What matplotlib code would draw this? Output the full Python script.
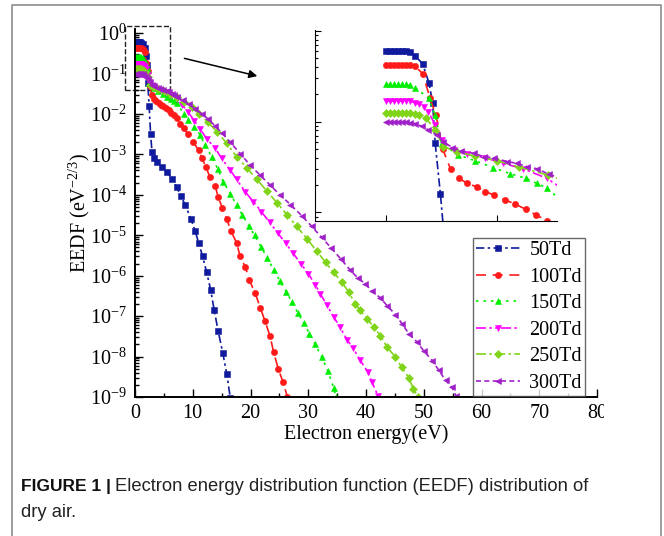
import matplotlib
matplotlib.use('Agg')
import matplotlib.pyplot as plt
import matplotlib.ticker as ticker
import numpy as np
from matplotlib.lines import Line2D
from matplotlib.patches import Rectangle
from matplotlib.transforms import Bbox, TransformedBbox

plt.rcParams['font.family'] = ['Liberation Serif', 'DejaVu Serif']
plt.rcParams['mathtext.fontset'] = 'custom'
plt.rcParams['mathtext.rm'] = 'Liberation Serif'
plt.rcParams['mathtext.it'] = 'Liberation Serif:italic'

# electron energy (eV) and log10(EEDF)
e_50 = [0, 0.18, 0.36, 0.54, 0.72, 0.9, 1.08, 1.31, 1.65, 1.94, 2.10, 2.21, 2.45, 2.7,
        2.95, 3.3, 3.8, 4.6, 5.5, 6.4, 7.2, 7.9, 8.7, 9.7, 10.4, 11.0, 11.7, 12.4,
        13.1, 13.7, 14.4, 15.2, 15.9, 16.5]
lg_50 = [-0.217, -0.217, -0.217, -0.217, -0.217, -0.22, -0.235, -0.272, -0.364, -0.577,
         -0.797, -1.23, -1.8, -2.5, -2.95, -3.1, -3.19, -3.31, -3.43, -3.6, -3.8, -4.02,
         -4.25, -4.6, -4.89, -5.18, -5.52, -5.91, -6.35, -6.84, -7.37, -7.91, -8.44, -9.02]

e_100 = [0, 0.18, 0.36, 0.54, 0.72, 0.9, 1.08, 1.31, 1.65, 1.98, 2.25, 2.55, 2.91, 3.29,
         3.66, 4.09, 4.47, 4.88, 5.36, 5.81, 6.29, 6.77, 7.27, 7.8, 8.4, 9.2, 10.1, 11.0,
         11.6, 12.3, 13.0, 13.9, 14.4, 15.1, 15.9, 16.6, 17.6, 18.2, 19.1, 19.8, 20.8,
         21.7, 22.5, 23.4, 24.0, 24.8, 25.6, 26.4]
lg_100 = [-0.375, -0.375, -0.375, -0.375, -0.375, -0.375, -0.375, -0.39, -0.47, -0.74,
          -0.93, -1.30, -1.525, -1.625, -1.68, -1.72, -1.77, -1.81, -1.863, -1.907,
          -1.966, -2.03, -2.095, -2.24, -2.36, -2.5, -2.69, -2.9, -3.1, -3.32, -3.57,
          -3.79, -4.05, -4.32, -4.6, -4.89, -5.19, -5.52, -5.78, -6.11, -6.43, -6.79,
          -7.12, -7.5, -7.89, -8.3, -8.62, -9.0]

e_150 = [0, 0.18, 0.36, 0.54, 0.72, 0.9, 1.08, 1.31, 1.92, 2.21, 2.5, 3.25, 4.0, 4.83,
         5.59, 6.29, 6.79, 7.27, 8.4, 9.2, 10.2, 11.3, 12.1, 13.3, 14.3, 15.3, 16.5,
         17.6, 18.6, 19.7, 20.7, 21.8, 22.9, 24.0, 25.1, 26.2, 27.2, 28.2, 29.2, 30.2,
         31.2, 32.3, 33.4, 34.4, 34.8]
lg_150 = [-0.588, -0.588, -0.588, -0.588, -0.588, -0.588, -0.595, -0.625, -0.742, -0.926,
          -1.24, -1.367, -1.43, -1.507, -1.573, -1.624, -1.68, -1.734, -1.99, -2.15,
          -2.32, -2.52, -2.77, -3.06, -3.35, -3.68, -3.97, -4.26, -4.5, -4.77, -5.0,
          -5.28, -5.56, -5.85, -6.13, -6.4, -6.66, -6.92, -7.17, -7.43, -7.7, -8.0,
          -8.36, -8.77, -9.0]

e_200 = [0, 0.18, 0.36, 0.54, 0.72, 0.9, 1.08, 1.31, 1.5, 1.69, 1.91, 2.21, 2.5, 3.04,
         3.63, 4.46, 5.29, 6.19, 7.24, 8.2, 9.2, 10.3, 11.3, 12.4, 13.9, 15.0, 16.5,
         17.6, 19.1, 20.5, 21.9, 23.3, 24.7, 26.1, 27.4, 28.7, 30.0, 31.2, 32.1, 33.2,
         34.4, 35.5, 36.7, 37.8, 39.0, 40.3, 41.0, 42.1]
lg_200 = [-0.772, -0.772, -0.772, -0.772, -0.772, -0.772, -0.775, -0.79, -0.81, -0.84,
          -0.89, -1.036, -1.20, -1.31, -1.36, -1.397, -1.46, -1.52, -1.624, -1.78,
          -1.96, -2.17, -2.38, -2.61, -2.85, -3.10, -3.39, -3.62, -3.93, -4.17, -4.42,
          -4.68, -4.94, -5.2, -5.45, -5.7, -5.95, -6.22, -6.45, -6.72, -7.02, -7.27,
          -7.58, -7.8, -8.09, -8.38, -8.62, -8.98]

e_250 = [0, 0.18, 0.36, 0.54, 0.72, 0.9, 1.08, 1.31, 1.5, 1.81, 2.21, 2.57, 3.2, 4.0,
         5.0, 6.0, 7.31, 8.5, 9.8, 11.1, 12.6, 14.2, 15.9, 17.6, 19.4, 21.1, 22.8, 24.6,
         26.3, 28.0, 29.8, 31.5, 33.0, 34.4, 35.8, 37.0, 38.1, 39.0, 40.2, 41.3, 42.5,
         43.6, 45.1, 46.2, 47.4, 48.2, 49.0]
lg_250 = [-0.90, -0.90, -0.90, -0.90, -0.90, -0.90, -0.90, -0.91, -0.93, -0.963, -1.09,
          -1.275, -1.33, -1.38, -1.43, -1.50, -1.59, -1.7, -1.84, -2.0, -2.2, -2.44,
          -2.73, -3.06, -3.34, -3.62, -3.9, -4.2, -4.49, -4.78, -5.09, -5.4, -5.67,
          -5.92, -6.16, -6.40, -6.69, -6.86, -7.06, -7.27, -7.48, -7.76, -8.01, -8.27,
          -8.52, -8.8, -9.0]

e_300 = [0, 0.18, 0.36, 0.54, 0.72, 0.9, 1.08, 1.31, 1.6, 1.91, 2.29, 2.57, 2.99, 3.36,
         3.96, 4.41, 4.86, 5.46, 5.91, 6.36, 6.81, 7.34, 8.3, 9.3, 10.4, 11.6, 12.7,
         13.9, 15.1, 16.5, 18.2, 19.9, 21.7, 23.4, 25.1, 26.9, 28.9, 30.6, 32.3, 34.0,
         35.6, 37.2, 38.6, 39.9, 41.0, 42.5, 43.7, 45.1, 46.3, 47.4, 48.9, 50.0, 51.5,
         52.6, 53.8, 54.9, 55.6]
lg_300 = [-1.007, -1.007, -1.007, -1.007, -1.007, -1.007, -1.01, -1.02, -1.05, -1.09,
          -1.147, -1.22, -1.286, -1.32, -1.35, -1.386, -1.40, -1.44, -1.46, -1.496,
          -1.52, -1.58, -1.66, -1.76, -1.87, -2.0, -2.13, -2.3, -2.48, -2.7, -2.98,
          -3.26, -3.52, -3.76, -4.0, -4.24, -4.52, -4.78, -5.05, -5.32, -5.58, -5.85,
          -6.06, -6.2, -6.38, -6.55, -6.75, -6.96, -7.2, -7.43, -7.65, -7.86, -8.1,
          -8.34, -8.59, -8.76, -8.98]

labels = ['50Td', '100Td', '150Td', '200Td', '250Td', '300Td']
energies = [e_50, e_100, e_150, e_200, e_250, e_300]
log_eedf = [lg_50, lg_100, lg_150, lg_200, lg_250, lg_300]

styles = [
    {'color': '#0f1a9c', 'ls': (0, (5, 2, 1.5, 2)), 'marker': 's', 'ms': 4.0},
    {'color': '#ff1a1a', 'ls': (0, (6, 4)), 'marker': 'o', 'ms': 4.5},
    {'color': '#00ee00', 'ls': (0, (1.5, 3)), 'marker': '^', 'ms': 5.0},
    {'color': '#ff00ff', 'ls': (0, (6, 2, 1.5, 2, 1.5, 2)), 'marker': 'v', 'ms': 5.0},
    {'color': '#80d41a', 'ls': (0, (6, 2, 1.5, 2)), 'marker': 'D', 'ms': 3.8},
    {'color': '#a020c8', 'ls': (0, (3, 2)), 'marker': '<', 'ms': 5.0},
]

W, H = 664, 536


def fx(px):
    return px / W


def fy(py):
    return 1 - py / H


fig = plt.figure(figsize=(W / 100, H / 100), dpi=100)

# main axes
ax = fig.add_axes([fx(135), fy(397), (597 - 135) / W, (397 - 29) / H])
for lab, e, lg, st in zip(labels, energies, log_eedf, styles):
    ax.plot(e, 10 ** np.array(lg), label=lab, color=st['color'], linestyle=st['ls'],
            linewidth=1.2, marker=st['marker'], markersize=st['ms'],
            markeredgewidth=0.4)

ax.set_yscale('log')
ax.set_xlim(0, 80)
ax.set_ylim(1e-9, 10 ** 0.1)
ax.set_xticks(range(0, 81, 10))
ax.xaxis.set_minor_locator(ticker.MultipleLocator(5))
ax.yaxis.set_major_locator(ticker.LogLocator(base=10, numticks=20))
ax.yaxis.set_minor_locator(ticker.LogLocator(base=10, subs=np.arange(2, 10), numticks=20))
ax.yaxis.set_major_formatter(ticker.LogFormatterMathtext())
ax.yaxis.set_minor_formatter(ticker.NullFormatter())
ax.tick_params(which='both', direction='in', width=1, labelsize=14.5)
ax.tick_params(which='major', length=6)
ax.tick_params(which='minor', length=3)
ax.tick_params(axis='x', pad=5)
ax.tick_params(axis='y', pad=6)
for s in ['top', 'right']:
    ax.spines[s].set_visible(False)
for s in ['left', 'bottom']:
    ax.spines[s].set_linewidth(1.4)
ax.set_xlabel('Electron energy(eV)', fontsize=14.5, labelpad=1)
ax.set_ylabel('EEDF (eV$^{-2/3}$)', fontsize=14.5, labelpad=-2)

# the "80" label is cut off at the right in the original
last = ax.xaxis.get_major_ticks()[-1].label1
last.set_clip_on(True)
last.set_clip_box(TransformedBbox(Bbox([[0, 0], [604 / W, 1]]), fig.transFigure))

ax.add_patch(Rectangle((-1.7, 10 ** -1.41), 7.77, 10 ** 0.17 - 10 ** -1.41,
                       fill=False, linestyle='--', linewidth=1, edgecolor='#222222',
                       clip_on=False))

leg = ax.legend(loc='upper left', bbox_to_anchor=(0.7316, 0.432), borderaxespad=0,
                fontsize=14.5, frameon=True, fancybox=False, edgecolor='#444444',
                handlelength=2.2, handletextpad=0.45, labelspacing=0.37,
                borderpad=0.15, numpoints=1)
leg.get_frame().set_linewidth(1.0)

# inset
axi = fig.add_axes([fx(315), fy(221), (557 - 315) / W, (221 - 30) / H])
for e, lg, st in zip(energies, log_eedf, styles):
    axi.plot(e, 10 ** np.array(lg), color=st['color'], linestyle=st['ls'],
             linewidth=1.2, marker=st['marker'], markersize=st['ms'],
             markeredgewidth=0.4)
axi.set_yscale('log')
axi.set_xlim(-3.2, 7.7)
axi.set_ylim(10 ** -2.095, 10 ** 0.011)
axi.set_xticks([0, 5])
axi.yaxis.set_major_locator(ticker.LogLocator(base=10, numticks=10))
axi.yaxis.set_minor_locator(ticker.LogLocator(base=10, subs=np.arange(2, 10), numticks=10))
axi.tick_params(which='both', direction='in', width=0.8, labelbottom=False, labelleft=False)
axi.tick_params(which='major', length=4)
axi.tick_params(which='minor', length=2)
axi.patch.set_alpha(0)
for s in ['top', 'right']:
    axi.spines[s].set_visible(False)

# arrow from the box to the inset
ax.annotate('', xy=(fx(260), fy(76.7)), xytext=(fx(181.7), fy(57.7)),
            xycoords='figure fraction', textcoords='figure fraction',
            arrowprops=dict(arrowstyle='-|>', color='k', lw=1.1, mutation_scale=12))

# page frame and caption
fig.add_artist(Line2D([fx(12), fx(12), fx(661), fx(661)], [0, fy(5), fy(5), 0],
                      transform=fig.transFigure, color='#8c8c8c', linewidth=1.2))
cap = fig.text(fx(21), fy(491), 'FIGURE 1 |', family='Liberation Sans',
               weight='bold', fontsize=12.5, va='baseline', color='#111111')
renderer = fig.canvas.get_renderer()
bb = cap.get_window_extent(renderer)
fig.text(bb.x1 / W + 4 / W, fy(491),
         'Electron energy distribution function (EEDF) distribution of',
         family='Liberation Sans', fontsize=13.2, va='baseline', color='#222222')
fig.text(fx(21), fy(517), 'dry air.', family='Liberation Sans', fontsize=13.2,
         va='baseline', color='#222222')

fig.savefig('out.png', dpi=100)
